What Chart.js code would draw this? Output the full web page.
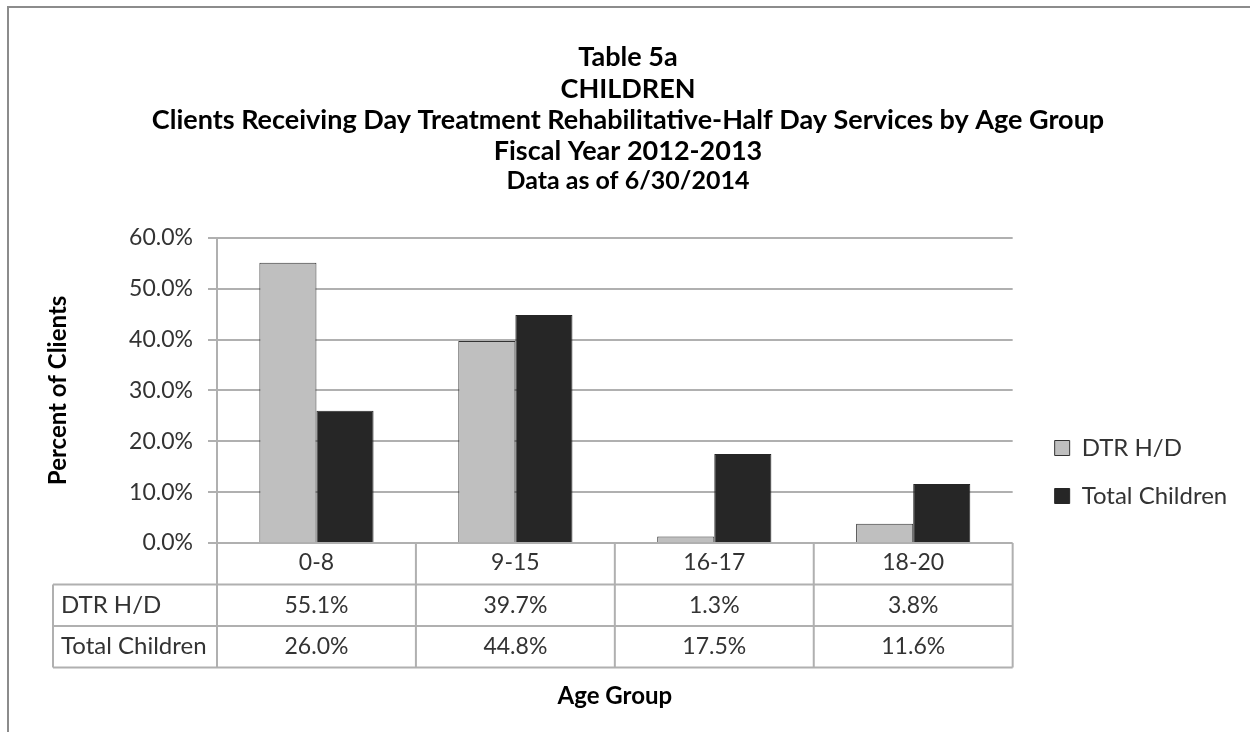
<!DOCTYPE html>
<html>
<head>
<meta charset="utf-8">
<script src="https://cdn.jsdelivr.net/npm/chart.js@4/dist/chart.umd.min.js"></script>
<style>
  body { margin: 0; background: #fff; }
</style>
</head>
<body>
<canvas id="chart" width="1250" height="732"></canvas>
<script>
// data
const ageGroups = ['0-8', '9-15', '16-17', '18-20']
const seriesNames = ['DTR H/D', 'Total Children']
const dtrHD = [55.1, 39.7, 1.3, 3.8]
const totalChildren = [26.0, 44.8, 17.5, 11.6]
const titleLines = ['Table 5a', 'CHILDREN', 'Clients Receiving Day Treatment Rehabilitative-Half Day Services by Age Group', 'Fiscal Year 2012-2013']
const subtitleText = 'Data as of 6/30/2014'

Chart.defaults.font.family = 'Lato, "Open Sans", sans-serif'
Chart.defaults.color = '#333'

const lineColor = '#b0b0b0'
const fontFamily = 'Lato, "Open Sans", sans-serif'

// outer frame + white background
const framePlugin = {
  id: 'frame',
  beforeDraw(chart) {
    const ctx = chart.ctx
    ctx.save()
    ctx.fillStyle = '#fff'
    ctx.fillRect(0, 0, chart.width, chart.height)
    ctx.strokeStyle = '#8c8c8c'
    ctx.lineWidth = 2
    ctx.beginPath()
    ctx.moveTo(8, chart.height)
    ctx.lineTo(8, 7)
    ctx.lineTo(chart.width, 7)
    ctx.stroke()
    ctx.restore()
  }
}

// data table under the plot, laid out on the x scale
const tablePlugin = {
  id: 'dataTable',
  afterDraw(chart) {
    const {ctx, scales: {x, y}} = chart
    const top = y.getPixelForValue(0)
    const rowH = 41.5
    const tableLeft = 53
    const catW = (x.right - x.left) / ageGroups.length
    ctx.save()
    ctx.strokeStyle = lineColor
    ctx.lineWidth = 2
    ctx.beginPath()
    for (let i = 0; i <= ageGroups.length; i++) {
      const px = x.left + i * catW
      ctx.moveTo(px, top)
      ctx.lineTo(px, top + 3 * rowH)
    }
    ctx.moveTo(tableLeft, top + rowH)
    ctx.lineTo(tableLeft, top + 3 * rowH)
    for (let r = 1; r <= 3; r++) {
      ctx.moveTo(tableLeft, top + r * rowH)
      ctx.lineTo(x.right, top + r * rowH)
    }
    ctx.stroke()

    ctx.fillStyle = '#333'
    ctx.textBaseline = 'middle'
    const rows = [[seriesNames[0], dtrHD], [seriesNames[1], totalChildren]]
    rows.forEach(([name, vals], r) => {
      const cy = top + (r + 1.5) * rowH
      ctx.font = '24px ' + fontFamily
      ctx.textAlign = 'left'
      ctx.fillText(name, tableLeft + 8, cy)
      ctx.font = '23px ' + fontFamily
      ctx.textAlign = 'center'
      vals.forEach((v, i) => {
        ctx.fillText(v.toFixed(1) + '%', x.getPixelForValue(i), cy)
      })
    })
    ctx.restore()
  }
}

new Chart(document.getElementById('chart'), {
  type: 'bar',
  data: {
    labels: ageGroups,
    datasets: [
      {
        label: seriesNames[0],
        data: dtrHD,
        backgroundColor: '#bfbfbf',
        borderColor: '#333',
        borderWidth: 1
      },
      {
        label: seriesNames[1],
        data: totalChildren,
        backgroundColor: '#262626',
        borderColor: '#262626',
        borderWidth: 1
      }
    ]
  },
  options: {
    responsive: false,
    animation: false,
    categoryPercentage: 0.574,
    barPercentage: 1,
    layout: {padding: {left: 24, right: 18, top: 0, bottom: 24}},
    plugins: {
      title: {
        display: true,
        text: titleLines,
        color: '#000',
        font: {size: 27, weight: 'bold', lineHeight: 1.16},
        padding: {top: 42, bottom: 0}
      },
      subtitle: {
        display: true,
        text: subtitleText,
        color: '#000',
        font: {size: 25, weight: 'bold', lineHeight: 1.1},
        padding: {top: 0, bottom: 43}
      },
      legend: {
        position: 'right',
        align: 'center',
        // blank title only pushes the entries down to where they sit
        title: {display: true, text: ' ', font: {size: 20, lineHeight: 1}, padding: {top: 216, bottom: 0}},
        labels: {
          boxWidth: 15,
          boxHeight: 15,
          padding: 24,
          color: '#333',
          font: {size: 24}
        }
      },
      tooltip: {enabled: false}
    },
    scales: {
      x: {
        grid: {display: false, drawTicks: false},
        border: {display: false},
        ticks: {color: '#333', font: {size: 23}, padding: 6},
        title: {
          display: true,
          text: 'Age Group',
          color: '#000',
          font: {size: 24, weight: 'bold', lineHeight: 1},
          padding: {top: 0, bottom: 0}
        },
        afterFit(scale) { scale.height = 165 }
      },
      y: {
        min: 0,
        max: 60,
        ticks: {
          stepSize: 10,
          color: '#333',
          font: {size: 23},
          padding: 15,
          callback: (v) => v.toFixed(1) + '%'
        },
        grid: {color: lineColor, lineWidth: 2, tickLength: 9},
        border: {display: true, color: lineColor, width: 2},
        title: {
          display: true,
          text: 'Percent of Clients',
          color: '#000',
          font: {size: 24, weight: 'bold', lineHeight: 1.2},
          padding: {top: 20, bottom: 0}
        },
        afterFit(scale) { scale.width = 193 }
      },
      gap: {
        type: 'linear',
        position: 'right',
        grid: {display: false, drawTicks: false},
        border: {display: false},
        ticks: {display: false},
        afterFit(scale) { scale.width = 18 }
      }
    }
  },
  plugins: [framePlugin, tablePlugin]
})
</script>
</body>
</html>
